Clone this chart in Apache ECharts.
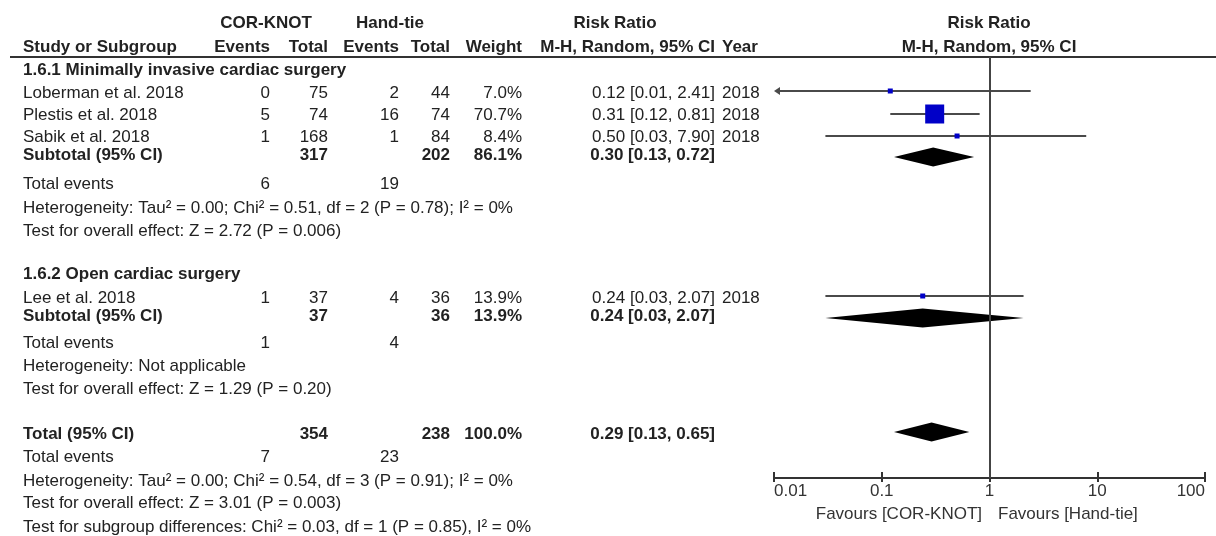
<!DOCTYPE html>
<html>
<head>
<meta charset="utf-8">
<script src="https://cdn.jsdelivr.net/npm/echarts@6/dist/echarts.min.js"></script>
<style>
  html, body { margin: 0; padding: 0; background: #ffffff; }
  #chart { width: 1216px; height: 536px; }
</style>
</head>
<body>
<div id="chart"></div>
<script>
// ---- Study-level data ----
const studyNames   = ['Loberman et al. 2018', 'Plestis et al. 2018', 'Sabik et al. 2018', 'Lee et al. 2018'];
const corEvents    = [0, 5, 1, 1];
const corTotals    = [75, 74, 168, 37];
const handEvents   = [2, 16, 1, 4];
const handTotals   = [44, 74, 84, 36];
const studyWeights = [7.0, 70.7, 8.4, 13.9];
const studyRR      = [0.12, 0.31, 0.50, 0.24];
const studyLow     = [0.01, 0.12, 0.03, 0.03];
const studyHigh    = [2.41, 0.81, 7.90, 2.07];
const studyYears   = [2018, 2018, 2018, 2018];

// ---- Subgroup summaries ----
const groupTitles      = ['1.6.1 Minimally invasive cardiac surgery', '1.6.2 Open cardiac surgery'];
const groupCorTotals   = [317, 37];
const groupHandTotals  = [202, 36];
const groupWeights     = [86.1, 13.9];
const groupRR          = [0.30, 0.24];
const groupLow         = [0.13, 0.03];
const groupHigh        = [0.72, 2.07];
const groupCorEvents   = [6, 1];
const groupHandEvents  = [19, 4];
const groupHeterogeneity = [
  'Heterogeneity: Tau\u00b2 = 0.00; Chi\u00b2 = 0.51, df = 2 (P = 0.78); I\u00b2 = 0%',
  'Heterogeneity: Not applicable'
];
const groupOverall = [
  'Test for overall effect: Z = 2.72 (P = 0.006)',
  'Test for overall effect: Z = 1.29 (P = 0.20)'
];

// ---- Overall pooled result ----
const totalCounts  = [354, 238];         // COR-KNOT total, Hand-tie total
const totalEvents  = [7, 23];            // COR-KNOT events, Hand-tie events
const totalWeight  = [100.0];
const totalEffect  = [0.29, 0.13, 0.65]; // RR, lower, upper
const totalHeterogeneity  = 'Heterogeneity: Tau\u00b2 = 0.00; Chi\u00b2 = 0.54, df = 3 (P = 0.91); I\u00b2 = 0%';
const totalOverall        = 'Test for overall effect: Z = 3.01 (P = 0.003)';
const subgroupDifferences = 'Test for subgroup differences: Chi\u00b2 = 0.03, df = 1 (P = 0.85), I\u00b2 = 0%';

// ---- Axis ----
const axisTicks      = [0.01, 0.1, 1, 10, 100];
const axisTickLabels = ['0.01', '0.1', '1', '10', '100'];
const favoursLabels  = ['Favours [COR-KNOT]', 'Favours [Hand-tie]'];

// ---- Layout (pixel rows and columns of the table) ----
const ROW = {
  head1: 23, head2: 47, rule: 57,
  groupTitle: [70, 274],
  study: [93, 115, 137, 298],
  groupSub: [155, 316],
  groupEvents: [184, 343],
  groupHet: [208, 366],
  groupTest: [231, 389],
  total: 434, totalEvents: 457, totalHet: 481, totalTest: 503, subgroupTest: 527,
  favours: 514
};
const MARK_Y = { study: [91, 114, 136, 296], group: [157, 318], total: 432 };
const COL = { name: 23, corEv: 270, corTot: 328, handEv: 399, handTot: 450, weight: 522, ci: 715, year: 722,
              corHead: 266, handHead: 390, rrHead: 615, plotHead: 989 };
const PLOT = { left: 774, right: 11, top: 57, axisY: 478 };

const FONT = '"Liberation Sans", Arial, Helvetica, sans-serif';
const TEXT_COLOR = '#222';
const X_MIN = axisTicks[0], X_MAX = axisTicks[axisTicks.length - 1];

function fmt2(v) { return v.toFixed(2); }
function ciText(rr, lo, hi) { return fmt2(rr) + ' [' + fmt2(lo) + ', ' + fmt2(hi) + ']'; }
function pct(w) { return w.toFixed(1) + '%'; }

function txt(x, y, text, align, bold, color) {
  return {
    type: 'text', x: x, y: y, silent: true,
    style: {
      text: String(text),
      font: (bold ? 'bold ' : '') + '17px ' + FONT,
      fill: color || TEXT_COLOR,
      textAlign: align, align: align,
      textVerticalAlign: 'middle', verticalAlign: 'middle'
    }
  };
}

// ---- Table text ----
const texts = [];
// header rows
texts.push(txt(COL.corHead, ROW.head1, 'COR-KNOT', 'center', true));
texts.push(txt(COL.handHead, ROW.head1, 'Hand-tie', 'center', true));
texts.push(txt(COL.rrHead, ROW.head1, 'Risk Ratio', 'center', true));
texts.push(txt(COL.plotHead, ROW.head1, 'Risk Ratio', 'center', true));
texts.push(txt(COL.name, ROW.head2, 'Study or Subgroup', 'left', true));
texts.push(txt(COL.corEv, ROW.head2, 'Events', 'right', true));
texts.push(txt(COL.corTot, ROW.head2, 'Total', 'right', true));
texts.push(txt(COL.handEv, ROW.head2, 'Events', 'right', true));
texts.push(txt(COL.handTot, ROW.head2, 'Total', 'right', true));
texts.push(txt(COL.weight, ROW.head2, 'Weight', 'right', true));
texts.push(txt(COL.ci, ROW.head2, 'M-H, Random, 95% CI', 'right', true));
texts.push(txt(COL.year, ROW.head2, 'Year', 'left', true));
texts.push(txt(COL.plotHead, ROW.head2, 'M-H, Random, 95% CI', 'center', true));

// subgroup titles
groupTitles.forEach(function (t, g) { texts.push(txt(COL.name, ROW.groupTitle[g], t, 'left', true)); });

// individual studies
studyNames.forEach(function (name, i) {
  const y = ROW.study[i];
  texts.push(txt(COL.name, y, name, 'left'));
  texts.push(txt(COL.corEv, y, corEvents[i], 'right'));
  texts.push(txt(COL.corTot, y, corTotals[i], 'right'));
  texts.push(txt(COL.handEv, y, handEvents[i], 'right'));
  texts.push(txt(COL.handTot, y, handTotals[i], 'right'));
  texts.push(txt(COL.weight, y, pct(studyWeights[i]), 'right'));
  texts.push(txt(COL.ci, y, ciText(studyRR[i], studyLow[i], studyHigh[i]), 'right'));
  texts.push(txt(COL.year, y, studyYears[i], 'left'));
});

// subgroup summaries
groupTitles.forEach(function (t, g) {
  const y = ROW.groupSub[g];
  texts.push(txt(COL.name, y, 'Subtotal (95% CI)', 'left', true));
  texts.push(txt(COL.corTot, y, groupCorTotals[g], 'right', true));
  texts.push(txt(COL.handTot, y, groupHandTotals[g], 'right', true));
  texts.push(txt(COL.weight, y, pct(groupWeights[g]), 'right', true));
  texts.push(txt(COL.ci, y, ciText(groupRR[g], groupLow[g], groupHigh[g]), 'right', true));
  texts.push(txt(COL.name, ROW.groupEvents[g], 'Total events', 'left'));
  texts.push(txt(COL.corEv, ROW.groupEvents[g], groupCorEvents[g], 'right'));
  texts.push(txt(COL.handEv, ROW.groupEvents[g], groupHandEvents[g], 'right'));
  texts.push(txt(COL.name, ROW.groupHet[g], groupHeterogeneity[g], 'left'));
  texts.push(txt(COL.name, ROW.groupTest[g], groupOverall[g], 'left'));
});

// overall
texts.push(txt(COL.name, ROW.total, 'Total (95% CI)', 'left', true));
texts.push(txt(COL.corTot, ROW.total, totalCounts[0], 'right', true));
texts.push(txt(COL.handTot, ROW.total, totalCounts[1], 'right', true));
texts.push(txt(COL.weight, ROW.total, pct(totalWeight[0]), 'right', true));
texts.push(txt(COL.ci, ROW.total, ciText(totalEffect[0], totalEffect[1], totalEffect[2]), 'right', true));
texts.push(txt(COL.name, ROW.totalEvents, 'Total events', 'left'));
texts.push(txt(COL.corEv, ROW.totalEvents, totalEvents[0], 'right'));
texts.push(txt(COL.handEv, ROW.totalEvents, totalEvents[1], 'right'));
texts.push(txt(COL.name, ROW.totalHet, totalHeterogeneity, 'left'));
texts.push(txt(COL.name, ROW.totalTest, totalOverall, 'left'));
texts.push(txt(COL.name, ROW.subgroupTest, subgroupDifferences, 'left'));

// favours captions either side of the line of no effect
texts.push(txt(COL.plotHead - 7, ROW.favours, favoursLabels[0], 'right', false, '#333'));
texts.push(txt(COL.plotHead + 9, ROW.favours, favoursLabels[1], 'left', false, '#333'));

// header rule
texts.push({
  type: 'line', silent: true,
  shape: { x1: 10, y1: ROW.rule, x2: 1216, y2: ROW.rule },
  style: { stroke: '#333', lineWidth: 2 }
});

// ---- Forest marks ----
const SQUARE_MAX = 19, SQUARE_MIN = 5;
const maxWeight = Math.max.apply(null, studyWeights);

const studyData = studyNames.map(function (n, i) {
  return [studyRR[i], studyLow[i], studyHigh[i], studyWeights[i], MARK_Y.study[i]];
});
const diamondData = groupRR.map(function (r, g) {
  return [groupRR[g], groupLow[g], groupHigh[g], MARK_Y.group[g]];
}).concat([[totalEffect[0], totalEffect[1], totalEffect[2], MARK_Y.total]]);

function renderStudy(params, api) {
  const est = api.value(0), lo = api.value(1), hi = api.value(2), w = api.value(3), y = api.value(4);
  const a = api.coord([Math.max(lo, X_MIN), y]);
  const b = api.coord([Math.min(hi, X_MAX), y]);
  const c = api.coord([est, y]);
  const side = Math.max(SQUARE_MIN, SQUARE_MAX * w / maxWeight);
  const offLeft = lo <= X_MIN, offRight = hi >= X_MAX;
  const children = [{
    type: 'line',
    shape: { x1: a[0] + (offLeft ? 5 : 0), y1: c[1], x2: b[0] - (offRight ? 5 : 0), y2: c[1] },
    style: { stroke: '#4a4a4a', lineWidth: 2 }
  }, {
    type: 'rect',
    shape: { x: c[0] - side / 2, y: c[1] - side / 2, width: side, height: side },
    style: { fill: '#0000c8' }
  }];
  if (offLeft) {
    children.push({ type: 'polygon', shape: { points: [[a[0], c[1]], [a[0] + 6, c[1] - 4], [a[0] + 6, c[1] + 4]] },
                    style: { fill: '#4a4a4a' } });
  }
  if (offRight) {
    children.push({ type: 'polygon', shape: { points: [[b[0], c[1]], [b[0] - 6, c[1] - 4], [b[0] - 6, c[1] + 4]] },
                    style: { fill: '#4a4a4a' } });
  }
  return { type: 'group', children: children };
}

function renderDiamond(params, api) {
  const est = api.value(0), lo = api.value(1), hi = api.value(2), y = api.value(3);
  const a = api.coord([lo, y]), b = api.coord([hi, y]), c = api.coord([est, y]);
  const h = 9.5;
  return {
    type: 'polygon',
    shape: { points: [[a[0], c[1]], [c[0], c[1] - h], [b[0], c[1]], [c[0], c[1] + h]] },
    style: { fill: '#000' }
  };
}

const chart = echarts.init(document.getElementById('chart'), null, { renderer: 'canvas' });

const logAxisBase = {
  type: 'log', logBase: 10, min: X_MIN, max: X_MAX, gridIndex: 0, position: 'bottom',
  splitLine: { show: false }, minorTick: { show: false }
};

chart.setOption({
  animation: false,
  backgroundColor: '#ffffff',
  grid: { left: PLOT.left, right: PLOT.right, top: PLOT.top, bottom: 536 - PLOT.axisY, containLabel: false },
  xAxis: [
    Object.assign({}, logAxisBase, {
      axisLine: { show: true, lineStyle: { color: '#333', width: 2 } },
      axisTick: { show: true, inside: true, length: 6, lineStyle: { color: '#333', width: 2 } },
      axisLabel: {
        show: true, margin: 5, color: '#333', fontSize: 17, fontFamily: FONT,
        alignMinLabel: 'left', alignMaxLabel: 'right',
        formatter: function (v) {
          const k = axisTicks.findIndex(function (t) { return Math.abs(Math.log10(t) - Math.log10(v)) < 1e-6; });
          return k >= 0 ? axisTickLabels[k] : '';
        }
      }
    }),
    Object.assign({}, logAxisBase, {
      axisLine: { show: false },
      axisTick: { show: true, inside: false, length: 4, lineStyle: { color: '#333', width: 2 } },
      axisLabel: { show: false }
    })
  ],
  yAxis: { type: 'value', min: PLOT.top, max: PLOT.axisY, inverse: true, show: false, gridIndex: 0 },
  graphic: { elements: texts },
  series: [{
    type: 'custom', xAxisIndex: 0, yAxisIndex: 0,
    renderItem: renderStudy, data: studyData, silent: true,
    markLine: {
      silent: true, symbol: 'none', label: { show: false },
      lineStyle: { color: '#444', width: 2, type: 'solid' },
      data: [{ xAxis: 1 }]
    }
  }, {
    type: 'custom', xAxisIndex: 0, yAxisIndex: 0,
    renderItem: renderDiamond, data: diamondData, silent: true
  }]
});
</script>
</body>
</html>
